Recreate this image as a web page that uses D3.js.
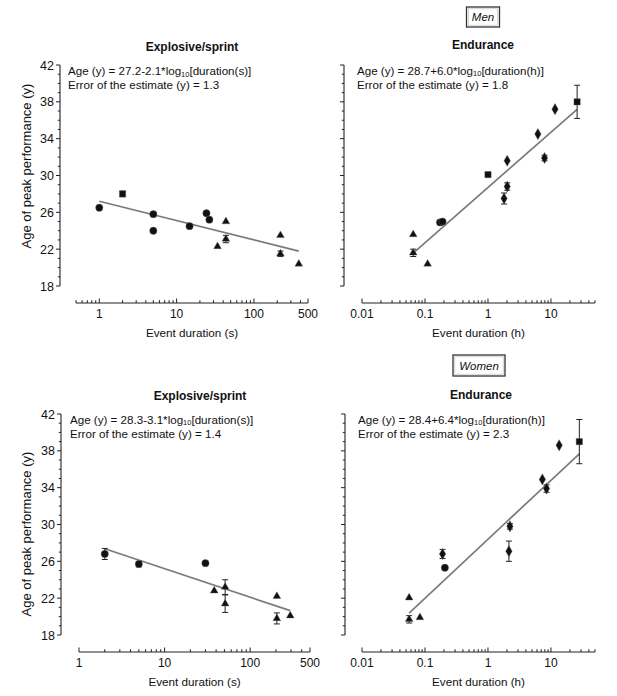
<!DOCTYPE html>
<html><head><meta charset="utf-8">
<script src="https://cdn.jsdelivr.net/npm/d3@7"></script>
<style>
body{margin:0;background:#fff}
svg{display:block}
text{font-family:"Liberation Sans",Arial,Helvetica,sans-serif;fill:#111}
</style>
</head><body>
<svg id="chart" width="617" height="696"></svg>
<script>
// ---------- DATA ----------
const yTickLabels = [18, 22, 26, 30, 34, 38, 42];
const sprintTicksMen = [1, 10, 100, 500];
const sprintTicksWomen = [1, 10, 100, 500];
const enduranceTicks = [0.01, 0.1, 1, 10];

const menSprintDur = [1, 2, 5, 5, 14.7, 24.3, 26.5, 43.4, 33.8, 43.4, 220, 220, 380];
const menSprintAge = [26.5, 28.0, 25.8, 24.0, 24.5, 25.9, 25.2, 25.0, 22.3, 23.1, 23.5, 21.5, 20.4];
const menSprintErr = [0, 0.3, 0, 0, 0, 0, 0, 0, 0, 0.4, 0, 0.3, 0];
const menSprintMarker = ["circle","square","circle","circle","circle","circle","circle","triangle","triangle","triangle","triangle","triangle","triangle"];

const menEndDur = [0.065, 0.065, 0.11, 0.173, 0.19, 1.0, 2.02, 2.02, 1.8, 6.2, 7.9, 11.6, 26];
const menEndAge = [23.6, 21.6, 20.4, 24.9, 25.0, 30.1, 31.6, 28.8, 27.5, 34.5, 31.9, 37.2, 38.0];
const menEndErr = [0, 0.4, 0, 0, 0, 0, 0, 0.4, 0.6, 0, 0.3, 0, 1.8];
const menEndMarker = ["triangle","triangle","triangle","circle","circle","square","diamond","diamond","diamond","diamond","diamond","diamond","square"];

const womenSprintDur = [2, 5, 30, 38, 51, 51, 205, 205, 294];
const womenSprintAge = [26.8, 25.7, 25.8, 22.8, 23.2, 21.4, 22.2, 19.8, 20.1];
const womenSprintErr = [0.6, 0.3, 0, 0, 0.8, 0.95, 0, 0.6, 0];
const womenSprintMarker = ["circle","circle","circle","triangle","triangle","triangle","triangle","triangle","triangle"];

const womenEndDur = [0.056, 0.056, 0.083, 0.19, 0.207, 2.23, 2.15, 7.3, 8.5, 13.5, 28.2];
const womenEndAge = [22.05, 19.7, 19.9, 26.8, 25.3, 29.8, 27.1, 34.9, 33.9, 38.6, 39.0];
const womenEndErr = [0, 0.4, 0, 0.5, 0, 0.3, 1.1, 0, 0.4, 0, 2.4];
const womenEndMarker = ["triangle","triangle","triangle","diamond","circle","diamond","diamond","diamond","diamond","diamond","square"];

const fitIntercept = [27.2, 28.7, 28.3, 28.4];
const fitSlope = [-2.1, 6.0, -3.1, 6.4];
const fitSEE = [1.3, 1.8, 1.4, 2.3];
const fitUnit = ["s", "h", "s", "h"];
const panelTitles = ["Explosive/sprint", "Endurance", "Explosive/sprint", "Endurance"];
const sexLabels = ["Men", "Women"];
const yAxisTitle = "Age of peak performance (y)";
const xAxisTitles = ["Event duration (s)", "Event duration (h)", "Event duration (s)", "Event duration (h)"];

// ---------- LAYOUT ----------
const svg = d3.select("#chart");
const panels = [
  {dur: menSprintDur, age: menSprintAge, err: menSprintErr, mk: menSprintMarker, dom: [0.5, 500], ticks: sprintTicksMen,
   yAxisX: 60, yTop: 65, yBot: 286, xAxisY: 303, xL: 76, xR: 308, eqX: 68, eqY: 75, titleX: 192, titleY: 51, yLabels: true, yTitleY: 166},
  {dur: menEndDur, age: menEndAge, err: menEndErr, mk: menEndMarker, dom: [0.01, 50], ticks: enduranceTicks,
   yAxisX: 344, yTop: 65, yBot: 286, xAxisY: 303, xL: 362, xR: 595, eqX: 357, eqY: 74.5, titleX: 483, titleY: 49, yLabels: false},
  {dur: womenSprintDur, age: womenSprintAge, err: womenSprintErr, mk: womenSprintMarker, dom: [1, 500], ticks: sprintTicksWomen,
   yAxisX: 61, yTop: 414, yBot: 635, xAxisY: 652, xL: 79, xR: 310, eqX: 70, eqY: 423.5, titleX: 200, titleY: 399.5, yLabels: true, yTitleY: 534},
  {dur: womenEndDur, age: womenEndAge, err: womenEndErr, mk: womenEndMarker, dom: [0.01, 50], ticks: enduranceTicks,
   yAxisX: 345, yTop: 414, yBot: 635, xAxisY: 652, xL: 362, xR: 595, eqX: 358, eqY: 423.5, titleX: 481, titleY: 398.5, yLabels: false}
];

const symbolType = {circle: d3.symbolCircle, square: d3.symbolSquare, triangle: d3.symbolTriangle, diamond: d3.symbolDiamond};
const symbolSize = {circle: 42, square: 40, triangle: 26, diamond: 36};
const fmt = v => (v >= 1 ? d3.format("d")(v) : String(v));

panels.forEach((p, i) => {
  const g = svg.append("g");
  const x = d3.scaleLog().domain(p.dom).range([p.xL, p.xR]);
  const y = d3.scaleLinear().domain([18, 42]).range([p.yBot, p.yTop]);

  // Y axis
  g.append("line").attr("x1", p.yAxisX).attr("x2", p.yAxisX).attr("y1", y(42)).attr("y2", y(18))
    .attr("stroke", "#222").attr("stroke-width", 1.1);
  d3.range(18, 43, 1).forEach(v => {
    const major = yTickLabels.includes(v);
    g.append("line").attr("x1", p.yAxisX).attr("x2", p.yAxisX - (major ? 4 : 2.2))
      .attr("y1", y(v)).attr("y2", y(v)).attr("stroke", "#222").attr("stroke-width", 1);
  });
  if (p.yLabels) {
    yTickLabels.forEach(v => {
      g.append("text").attr("x", p.yAxisX - 6).attr("y", y(v)).attr("dy", "0.36em")
        .attr("text-anchor", "end").attr("font-size", 12.5).text(v);
    });
    g.append("text").attr("transform", `translate(31,${p.yTitleY}) rotate(-90)`)
      .attr("text-anchor", "middle").attr("font-size", 13).text(yAxisTitle);
  }

  // X axis
  g.append("line").attr("x1", p.xL).attr("x2", p.xR).attr("y1", p.xAxisY).attr("y2", p.xAxisY)
    .attr("stroke", "#222").attr("stroke-width", 1.1);
  x.ticks().forEach(v => {
    const major = p.ticks.some(t => Math.abs(t - v) / t < 1e-6);
    g.append("line").attr("x1", x(v)).attr("x2", x(v))
      .attr("y1", p.xAxisY).attr("y2", p.xAxisY - (major ? 4.5 : 2.8))
      .attr("stroke", "#222").attr("stroke-width", 1);
  });
  p.ticks.forEach(v => {
    g.append("text").attr("x", x(v)).attr("y", p.xAxisY + 15).attr("text-anchor", "middle")
      .attr("font-size", 12).text(fmt(v));
  });
  g.append("text").attr("x", (p.xL + p.xR) / 2).attr("y", p.xAxisY + 34).attr("text-anchor", "middle")
    .attr("font-size", 11.7).text(xAxisTitles[i]);

  // Panel title
  g.append("text").attr("x", p.titleX).attr("y", p.titleY).attr("text-anchor", "middle")
    .attr("font-size", 12).attr("font-weight", "bold").text(panelTitles[i]);

  // Equation text
  const b = fitIntercept[i], s = fitSlope[i];
  const eq = g.append("text").attr("x", p.eqX).attr("y", p.eqY).attr("font-size", 11.6);
  eq.append("tspan").text(`Age (y) = ${b.toFixed(1)}${s < 0 ? "-" : "+"}${Math.abs(s).toFixed(1)}*log`);
  eq.append("tspan").attr("font-size", 7.5).attr("dy", 1.8).text("10");
  eq.append("tspan").attr("dy", -1.8).text(`[duration(${fitUnit[i]})]`);
  g.append("text").attr("x", p.eqX).attr("y", p.eqY + 14).attr("font-size", 11.6)
    .text(`Error of the estimate (y) = ${fitSEE[i].toFixed(1)}`);

  // Regression line
  const xmin = d3.min(p.dur), xmax = d3.max(p.dur);
  g.append("line").attr("x1", x(xmin)).attr("y1", y(b + s * Math.log10(xmin)))
    .attr("x2", x(xmax)).attr("y2", y(b + s * Math.log10(xmax)))
    .attr("stroke", "#7a7a7a").attr("stroke-width", 1.7);

  // Error bars
  p.dur.forEach((d, k) => {
    const e = p.err[k];
    if (!e) return;
    const cx = x(d), y1 = y(p.age[k] - e), y2 = y(p.age[k] + e);
    g.append("line").attr("x1", cx).attr("x2", cx).attr("y1", y1).attr("y2", y2).attr("stroke", "#222").attr("stroke-width", 1);
    [y1, y2].forEach(yy => g.append("line").attr("x1", cx - 3).attr("x2", cx + 3).attr("y1", yy).attr("y2", yy)
      .attr("stroke", "#222").attr("stroke-width", 1));
  });

  // Markers
  p.dur.forEach((d, k) => {
    const m = p.mk[k];
    g.append("path").attr("d", d3.symbol().type(symbolType[m]).size(symbolSize[m])())
      .attr("transform", `translate(${x(d)},${y(p.age[k])})`)
      .attr("fill", "#111").attr("stroke", "#666").attr("stroke-width", 0.4);
  });
});

// Sex labels in boxes
const boxes = [{cx: 483, y0: 7, y1: 27, w: 33}, {cx: 479, y0: 355, y1: 376, w: 52}];
boxes.forEach((bx, i) => {
  svg.append("rect").attr("x", bx.cx - bx.w / 2).attr("y", bx.y0).attr("width", bx.w).attr("height", bx.y1 - bx.y0)
    .attr("fill", "none").attr("stroke", "#333").attr("stroke-width", 1.3);
  svg.append("rect").attr("x", bx.cx - bx.w / 2 + 1.8).attr("y", bx.y0 + 1.8).attr("width", bx.w - 3.6).attr("height", bx.y1 - bx.y0 - 3.6)
    .attr("fill", "none").attr("stroke", "#bbb").attr("stroke-width", 0.6);
  svg.append("text").attr("x", bx.cx).attr("y", (bx.y0 + bx.y1) / 2).attr("dy", "0.36em")
    .attr("text-anchor", "middle").attr("font-size", 11.5).attr("font-style", "italic").text(sexLabels[i]);
});
</script>
</body></html>
